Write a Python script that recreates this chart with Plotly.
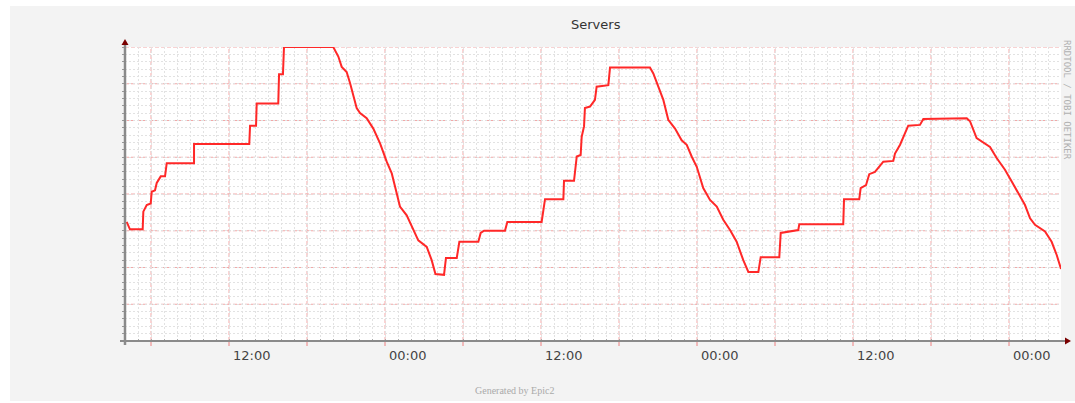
import plotly.graph_objects as go

# ---- data ----
hours = [0.13, 0.38, 1.36, 1.41, 1.67, 1.98, 2.05, 2.31, 2.44, 2.75,
         3.08, 3.21, 5.31, 5.31, 9.56, 9.62, 10.08, 10.13, 11.79, 11.85,
         12.15, 12.23, 16.02, 16.41, 16.67, 17.05, 17.31, 17.56, 17.82, 18.08,
         18.59, 19.1, 19.62, 20.13, 20.52, 20.9, 21.15, 21.67, 22.18, 22.56,
         23.21, 23.59, 23.88, 24.54, 24.69, 25.52, 25.72, 27.18, 27.36, 27.62,
         29.23, 29.41, 32.05, 32.31, 33.72, 33.77, 34.54, 34.62, 34.75, 35.05,
         35.13, 35.31, 35.38, 35.77, 36.15, 36.28, 37.18, 37.31, 40.38, 40.64,
         41.02, 41.41, 41.79, 42.31, 42.82, 43.21, 43.59, 43.98, 44.48, 45.0,
         45.52, 46.02, 46.54, 47.05, 47.56, 47.95, 48.72, 48.9, 50.33, 50.44,
         51.79, 51.87, 55.25, 55.31, 56.48, 56.59, 57.0, 57.25, 57.69, 58.33,
         59.1, 59.23, 59.62, 59.92, 60.25, 61.15, 61.41, 64.75, 65.0, 65.51,
         66.15, 66.54, 67.05, 67.69, 68.21, 68.72, 69.23, 69.62, 70.0, 70.77,
         71.28, 71.67, 72.0]
servers = [16.2, 15.2, 15.2, 17.6, 18.5, 18.7, 20.3, 20.5, 21.5, 22.4,
           22.4, 24.2, 24.2, 26.8, 26.8, 29.3, 29.3, 32.3, 32.3, 36.3,
           36.3, 40.0, 40.0, 38.7, 37.3, 36.6, 35.1, 33.5, 31.7, 31.0,
           30.3, 28.9, 26.9, 24.4, 22.8, 20.1, 18.3, 17.1, 15.1, 13.7,
           12.8, 11.0, 9.1, 9.0, 11.3, 11.3, 13.5, 13.5, 14.7, 15.0,
           15.0, 16.2, 16.2, 19.3, 19.3, 21.8, 21.8, 23.5, 25.1, 25.3,
           27.8, 29.2, 31.7, 31.9, 32.8, 34.6, 34.8, 37.2, 37.2, 36.4,
           34.6, 32.8, 30.1, 28.9, 27.3, 26.7, 25.1, 23.7, 20.8, 19.2,
           18.3, 16.5, 15.1, 13.5, 11.0, 9.4, 9.4, 11.4, 11.4, 14.7,
           15.1, 15.9, 15.9, 19.3, 19.3, 20.8, 21.2, 22.7, 23.0, 24.4,
           24.5, 25.5, 26.7, 28.0, 29.3, 29.4, 30.2, 30.3, 29.9, 27.6,
           26.9, 26.4, 24.9, 23.3, 21.7, 20.1, 18.5, 16.7, 15.8, 14.9,
           13.5, 11.7, 9.8]
label_hours = [9.75, 21.75, 33.75, 45.75, 57.75, 69.75]
label_text = ["12:00", "00:00", "12:00", "00:00", "12:00", "00:00"]
title_text = "Servers"
footer_text = "Generated by Epic2"
watermark_text = "RRDTOOL / TOBI OETIKER"

# ---- axis grid settings ----
X_RANGE, X_MAJOR0, X_MAJOR, X_MINOR = 72, 2, 6, 1
Y_RANGE, Y_MAJOR, Y_MINOR = 40, 5, 1

# ---- layout geometry (pixels) ----
W, H = 1075, 403
L, R, T, B = 125, 1061, 47, 341
PW, PH = R - L, B - T


def px(x):
    return (x - L) / PW


def py(y):
    return (B - y) / PH


RED_GRID = "#f2a8a8"
GRAY_GRID = "#e2e2e2"

fig = go.Figure()
fig.add_trace(go.Scatter(
    x=hours, y=servers, mode="lines",
    line=dict(color="rgb(255,40,40)", width=2),
    hoverinfo="skip", showlegend=False,
))

common = dict(showticklabels=False, zeroline=False, showline=False,
              fixedrange=True)
fig.update_layout(
    # gray minor grid from the axes
    xaxis=dict(range=[0, X_RANGE], tick0=0, dtick=X_MINOR, showgrid=True,
               gridcolor=GRAY_GRID, griddash="2px,2px", gridwidth=1,
               ticks="inside", ticklen=2, tickcolor="#aaaaaa", **common),
    yaxis=dict(range=[0, Y_RANGE], tick0=0, dtick=Y_MINOR, showgrid=True,
               gridcolor=GRAY_GRID, griddash="2px,2px", gridwidth=1,
               ticks="outside", ticklen=2, tickcolor="#999999", **common),
)

shapes = []
# red major grid (drawn above the gray minor grid, below the data line)
for h in range(X_MAJOR0, X_RANGE + 1, X_MAJOR):
    shapes.append(dict(type="line", xref="x", yref="paper", x0=h, x1=h,
                       y0=0, y1=1, layer="below",
                       line=dict(color=RED_GRID, width=1, dash="4px,2px")))
    shapes.append(dict(type="line", xref="x", yref="paper", x0=h, x1=h,
                       y0=py(341), y1=py(346),
                       line=dict(color="#ee8080", width=1)))
for v in range(Y_MAJOR, Y_RANGE + 1, Y_MAJOR):
    shapes.append(dict(type="line", xref="paper", yref="y", x0=0, x1=1,
                       y0=v, y1=v, layer="below",
                       line=dict(color=RED_GRID, width=1, dash="4px,2px")))
# white outer strips around the grey canvas
for (x0, y0, x1, y1) in [(0, 0, W, 6), (0, 0, 10, H), (0, 401, W, H)]:
    shapes.append(dict(type="rect", xref="paper", yref="paper",
                       x0=px(x0), x1=px(x1), y0=py(y0), y1=py(y1),
                       fillcolor="white", line=dict(width=0), layer="below"))
# axis lines
shapes.append(dict(type="line", xref="paper", yref="paper",
                   x0=px(120), x1=px(1068), y0=py(341), y1=py(341),
                   line=dict(color="#8a8a8a", width=2)))
shapes.append(dict(type="line", xref="paper", yref="paper",
                   x0=px(125), x1=px(125), y0=py(345), y1=py(42),
                   line=dict(color="#8a8a8a", width=2.5)))
# arrow heads
shapes.append(dict(type="path", xref="paper", yref="paper",
                   path=f"M {px(121.5)},{py(45)} L {px(128.5)},{py(45)} L {px(125)},{py(39)} Z",
                   fillcolor="#7a0000", line=dict(width=0)))
shapes.append(dict(type="path", xref="paper", yref="paper",
                   path=f"M {px(1065)},{py(337.5)} L {px(1065)},{py(344.5)} L {px(1071)},{py(341)} Z",
                   fillcolor="#7a0000", line=dict(width=0)))

annotations = []
for h, t in zip(label_hours, label_text):
    annotations.append(dict(x=h, xref="x", y=py(355), yref="paper", text=t,
                            showarrow=False, xanchor="center", yanchor="middle",
                            font=dict(family="DejaVu Sans", size=13, color="#444")))
annotations.append(dict(x=px(596), y=py(25), xref="paper", yref="paper",
                        text=title_text, showarrow=False,
                        xanchor="center", yanchor="middle",
                        font=dict(family="DejaVu Sans", size=13, color="#333")))
annotations.append(dict(x=px(514), y=py(390), xref="paper", yref="paper",
                        text=footer_text, showarrow=False,
                        xanchor="center", yanchor="middle",
                        font=dict(family="Liberation Serif", size=10, color="#aaaaaa")))
annotations.append(dict(x=px(1067), y=py(100), xref="paper", yref="paper",
                        text=watermark_text, showarrow=False, textangle=90,
                        xanchor="center", yanchor="middle",
                        font=dict(family="DejaVu Sans Mono", size=9, color="#b0b0b0")))

fig.update_layout(
    width=W, height=H,
    margin=dict(l=L, r=W - R, t=T, b=H - B, pad=0),
    paper_bgcolor="#f3f3f3", plot_bgcolor="#ffffff",
    shapes=shapes, annotations=annotations, showlegend=False,
)

fig.write_html(
    "out.html",
    config={"displayModeBar": False},
    post_script="document.body.style.margin='0px';document.body.style.overflow='hidden';",
)
